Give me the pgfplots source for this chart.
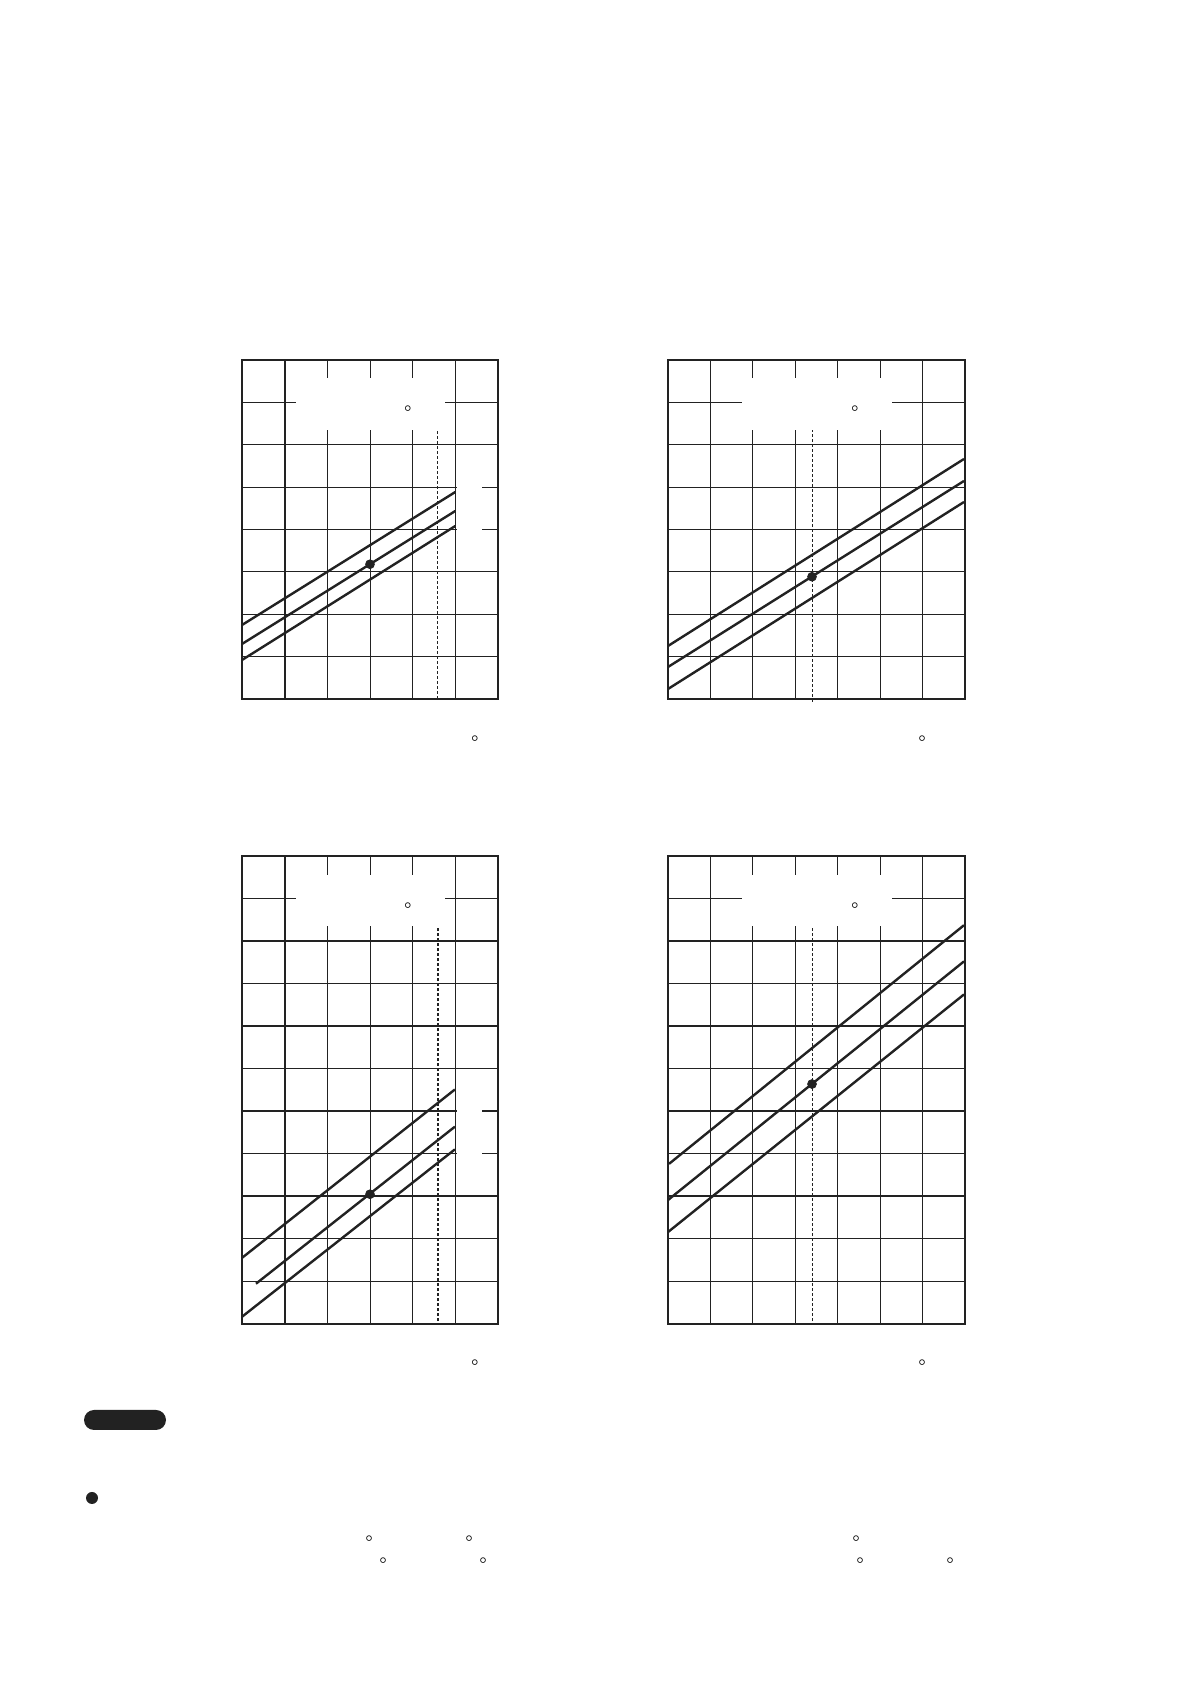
\documentclass[border=0pt]{standalone}
\usepackage{pgfplots}
\pgfplotsset{compat=1.18}
\definecolor{ink}{HTML}{222222}

\pgfplotsset{
  gridchart/.style={
    scale only axis, clip=false,
    axis line style={ink, line width=1.4pt, line cap=rect},
    grid=major,
    major grid style={ink, line width=0.5pt},
    xticklabels={}, yticklabels={},
    major tick length=0pt,
    tick style={draw=none},
  },
  thickcol/.style={
    extra x ticks={1}, extra x tick labels={},
    extra x tick style={grid=major, major grid style={ink, line width=1.1pt}},
  },
  thickrows/.style={
    extra y ticks={3,5,7,9}, extra y tick labels={},
    extra y tick style={grid=major, major grid style={ink, line width=1.1pt}},
  },
  series/.style={ink, line width=1.2pt, no marks},
  point/.style={ink, only marks, mark=*, mark size=2.2pt},
}
\newcommand{\degmark}{\textdegree}

\begin{document}
\begin{tikzpicture}
\path[use as bounding box] (0,0) rectangle (595pt,842pt);

% top left
\begin{axis}[gridchart, thickcol, at={(121pt,492.5pt)}, anchor=south west,
  width=128pt, height=169.5pt,
  xmin=0, xmax=6, ymin=0, ymax=8,
  xtick={2,3,4,5}, ytick={1,...,7}]
\fill[white] (axis cs:1.27,6.35) rectangle (axis cs:4.76,7.575);
\fill[white] (axis cs:5.03,3.75) rectangle (axis cs:5.62,5.25);
\addplot[ink, line width=0.5pt, dash pattern=on 1.5pt off 1pt] coordinates {(4.59,0) (4.59,6.35)};
\addplot[series] coordinates {(0,1.746) (5,4.885)};
\addplot[series] coordinates {(0,1.298) (5,4.437)};
\addplot[series] coordinates {(0,0.920) (5,4.083)};
\addplot[point] coordinates {(3,3.18)};
\node[anchor=north, inner sep=0pt, yshift=1pt] at (axis cs:3.89,6.87) {\degmark};
\node[anchor=north, inner sep=0pt, yshift=1pt] at (axis cs:5.46,-0.90) {\degmark};
\end{axis}

% top right
\begin{axis}[gridchart, at={(334pt,492.5pt)}, anchor=south west,
  width=148.5pt, height=169.5pt,
  xmin=0, xmax=7, ymin=0, ymax=8,
  xtick={1,...,6}, ytick={1,...,7}]
\fill[white] (axis cs:1.744,6.35) rectangle (axis cs:5.28,7.575);
\addplot[ink, line width=0.5pt, dash pattern=on 1.5pt off 1pt] coordinates {(3.394,-0.07) (3.394,6.35)};
\addplot[series] coordinates {(0,1.251) (6.976,5.664)};
\addplot[series] coordinates {(0,0.755) (6.976,5.145)};
\addplot[series] coordinates {(0,0.236) (6.976,4.649)};
\addplot[point] coordinates {(3.394,2.885)};
\node[anchor=north, inner sep=0pt, yshift=1pt] at (axis cs:4.407,6.87) {\degmark};
\node[anchor=north, inner sep=0pt, yshift=1pt] at (axis cs:5.99,-0.90) {\degmark};
\end{axis}

% bottom left
\begin{axis}[gridchart, thickcol, thickrows, at={(121pt,180pt)}, anchor=south west,
  width=128pt, height=234pt,
  xmin=0, xmax=6, ymin=0, ymax=11,
  xtick={2,3,4,5}, ytick={1,2,4,6,8,10}]
\fill[white] (axis cs:1.27,9.35) rectangle (axis cs:4.76,10.56);
\fill[white] (axis cs:5.03,3.7) rectangle (axis cs:5.62,5.3);
\addplot[ink, line width=0.9pt, dash pattern=on 1.5pt off 1pt] coordinates {(4.59,0.07) (4.59,9.35)};
\addplot[series] coordinates {(0,1.554) (4.99,5.512)};
\addplot[series] coordinates {(0.328,0.947) (4.99,4.638)};
\addplot[series] coordinates {(0,0.170) (4.99,4.104)};
\addplot[point] coordinates {(3,3.05)};
\node[anchor=north, inner sep=0pt, yshift=1pt] at (axis cs:3.89,9.86) {\degmark};
\node[anchor=north, inner sep=0pt, yshift=1pt] at (axis cs:5.46,-0.874) {\degmark};
\end{axis}

% bottom right
\begin{axis}[gridchart, thickrows, at={(334pt,180pt)}, anchor=south west,
  width=148.5pt, height=234pt,
  xmin=0, xmax=7, ymin=0, ymax=11,
  xtick={1,...,6}, ytick={1,2,4,6,8,10}]
\fill[white] (axis cs:1.744,9.35) rectangle (axis cs:5.28,10.56);
\addplot[ink, line width=0.5pt, dash pattern=on 1.5pt off 1pt] coordinates {(3.394,0.07) (3.394,9.35)};
\addplot[series] coordinates {(0.024,3.764) (6.976,9.373)};
\addplot[series] coordinates {(0,2.914) (6.976,8.523)};
\addplot[series] coordinates {(0,2.161) (6.976,7.746)};
\addplot[point] coordinates {(3.394,5.64)};
\node[anchor=north, inner sep=0pt, yshift=1pt] at (axis cs:4.407,9.86) {\degmark};
\node[anchor=north, inner sep=0pt, yshift=1pt] at (axis cs:5.99,-0.874) {\degmark};
\end{axis}

% notes block below the charts
\fill[ink, rounded corners=5pt] (42pt,127pt) rectangle (83pt,137pt);
\fill[ink] (46pt,93pt) circle (3pt);
\foreach \x/\y in {184.5/73.5, 234.5/73.5, 191.5/62.5, 241.5/62.5, 428/73.5, 430/62.5, 475/62.5}
  \node[anchor=north, inner sep=0pt, yshift=1pt] at (\x pt,\y pt) {\degmark};
\end{tikzpicture}
\end{document}
